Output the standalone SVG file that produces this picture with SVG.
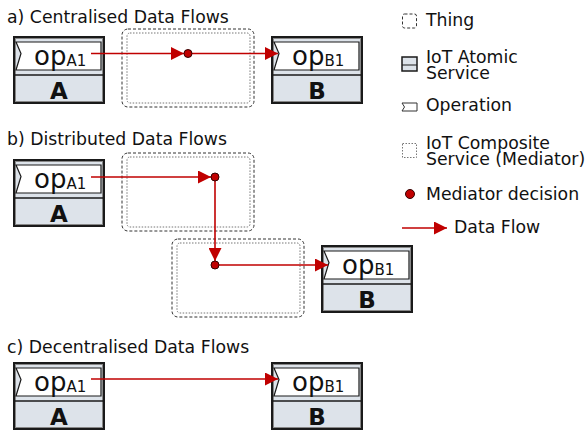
<svg xmlns="http://www.w3.org/2000/svg" width="585" height="431" viewBox="0 0 585 431">
<style>
text{font-family:"DejaVu Sans","Liberation Sans",sans-serif;fill:#111}
.t{font-size:17.3px}
.op{font-size:26px}
.sub{font-size:15px}
.lbl{font-size:23px;font-weight:bold;text-anchor:middle}
.box{fill:#dde3ea;stroke:#1a1a1a;stroke-width:2}
.inner{fill:none;stroke:#888;stroke-width:1}
.div{stroke:#1a1a1a;stroke-width:1.5}
.opb{fill:#fff;stroke:#1a1a1a;stroke-width:1.2}
.mo{fill:none;stroke:#333;stroke-width:1;stroke-dasharray:3 2}
.mi{fill:none;stroke:#777;stroke-width:1;stroke-dasharray:1.5 1.5}
.flow{fill:none;stroke:#c00000;stroke-width:1.6}
.dot{fill:#c00000;stroke:#300;stroke-width:1}
</style>
<defs>
<marker id="ah" markerUnits="userSpaceOnUse" markerWidth="13" markerHeight="13" refX="13" refY="6.5" orient="auto">
<path d="M0,0 L13,6.5 L0,13 Z" fill="#c00000"/>
</marker>
<g id="svcA">
<rect class="box" x="0" y="0" width="90" height="66"/>
<rect class="inner" x="1.5" y="1.5" width="87" height="63"/>
<line class="div" x1="0" y1="38" x2="90" y2="38"/>
<path class="opb" d="M2,5 H87 V33 H2 L7,16.5 Z"/>
</g>
</defs>

<!-- titles -->
<text class="t" x="7" y="23">a) Centralised Data Flows</text>
<text class="t" x="7" y="145">b) Distributed Data Flows</text>
<text class="t" x="7" y="353">c) Decentralised Data Flows</text>

<!-- a) -->
<g id="a_A">
<use href="#svcA" x="14" y="37"/>
<text class="op" x="34" y="64.5">op<tspan class="sub" dy="1">A1</tspan></text>
<text class="lbl" x="59" y="98.5">A</text>
</g>
<g id="a_med">
<rect class="mo" x="122" y="29" width="132" height="78" rx="6"/>
<rect class="mi" x="127" y="33" width="123" height="70" rx="3"/>
</g>
<g id="a_B">
<use href="#svcA" x="272" y="37"/>
<text class="op" x="292" y="64.5">op<tspan class="sub" dy="1">B1</tspan></text>
<text class="lbl" x="317" y="98.5">B</text>
</g>

<!-- b) -->
<g id="b_A">
<use href="#svcA" x="14" y="160"/>
<text class="op" x="34" y="187.5">op<tspan class="sub" dy="1">A1</tspan></text>
<text class="lbl" x="59" y="221.5">A</text>
</g>
<g id="b_med1">
<rect class="mo" x="122" y="153" width="132" height="78" rx="6"/>
<rect class="mi" x="127" y="157" width="123" height="70" rx="3"/>
</g>
<g id="b_med2">
<rect class="mo" x="172" y="239" width="132" height="78" rx="6"/>
<rect class="mi" x="177" y="243" width="123" height="70" rx="3"/>
</g>
<g id="b_B">
<use href="#svcA" x="322" y="246"/>
<text class="op" x="342" y="273.5">op<tspan class="sub" dy="1">B1</tspan></text>
<text class="lbl" x="367" y="307.5">B</text>
</g>

<!-- c) -->
<g id="c_A">
<use href="#svcA" x="14" y="363"/>
<text class="op" x="34" y="390.5">op<tspan class="sub" dy="1">A1</tspan></text>
<text class="lbl" x="59" y="424.5">A</text>
</g>
<g id="c_B">
<use href="#svcA" x="272" y="363"/>
<text class="op" x="292" y="390.5">op<tspan class="sub" dy="1">B1</tspan></text>
<text class="lbl" x="317" y="424.5">B</text>
</g>

<!-- connectors -->
<g id="connectors">
<line class="flow" x1="91" y1="53.5" x2="184" y2="53.5" marker-end="url(#ah)"/>
<line class="flow" x1="188" y1="53.5" x2="278" y2="53.5" marker-end="url(#ah)"/>
<line class="flow" x1="91" y1="177" x2="211" y2="177" marker-end="url(#ah)"/>
<line class="flow" x1="215" y1="177" x2="215" y2="261" marker-end="url(#ah)"/>
<line class="flow" x1="215" y1="265" x2="328" y2="265" marker-end="url(#ah)"/>
<line class="flow" x1="91" y1="379" x2="278" y2="379" marker-end="url(#ah)"/>
<circle class="dot" cx="188" cy="53.5" r="4"/>
<circle class="dot" cx="215" cy="177" r="4"/>
<circle class="dot" cx="215" cy="265" r="4"/>
</g>

<!-- legend -->
<g id="legend">
<rect x="402.5" y="14" width="14" height="14" rx="2" fill="none" stroke="#333" stroke-width="1" stroke-dasharray="3 2"/>
<text class="t" x="426" y="26">Thing</text>
<rect x="402" y="57" width="15" height="14" fill="#dde3ea" stroke="#1a1a1a" stroke-width="1.5"/>
<line x1="402" y1="65" x2="417" y2="65" stroke="#1a1a1a" stroke-width="1"/>
<text class="t" x="426" y="62.5">IoT Atomic</text>
<text class="t" x="426" y="78.5">Service</text>
<path d="M402,103 H417 V111 H402 L404.5,107 Z" fill="#fff" stroke="#333" stroke-width="1"/>
<text class="t" x="426" y="111">Operation</text>
<rect x="402.5" y="143.5" width="14" height="14" fill="none" stroke="#777" stroke-width="1" stroke-dasharray="1.5 1.5"/>
<text class="t" x="426" y="149">IoT Composite</text>
<text class="t" x="426" y="165">Service (Mediator)</text>
<circle class="dot" cx="410" cy="194" r="4.5"/>
<text class="t" x="426" y="200">Mediator decision</text>
<line class="flow" x1="402" y1="228" x2="447" y2="228" marker-end="url(#ah)"/>
<text class="t" x="454" y="233">Data Flow</text>
</g>
</svg>
